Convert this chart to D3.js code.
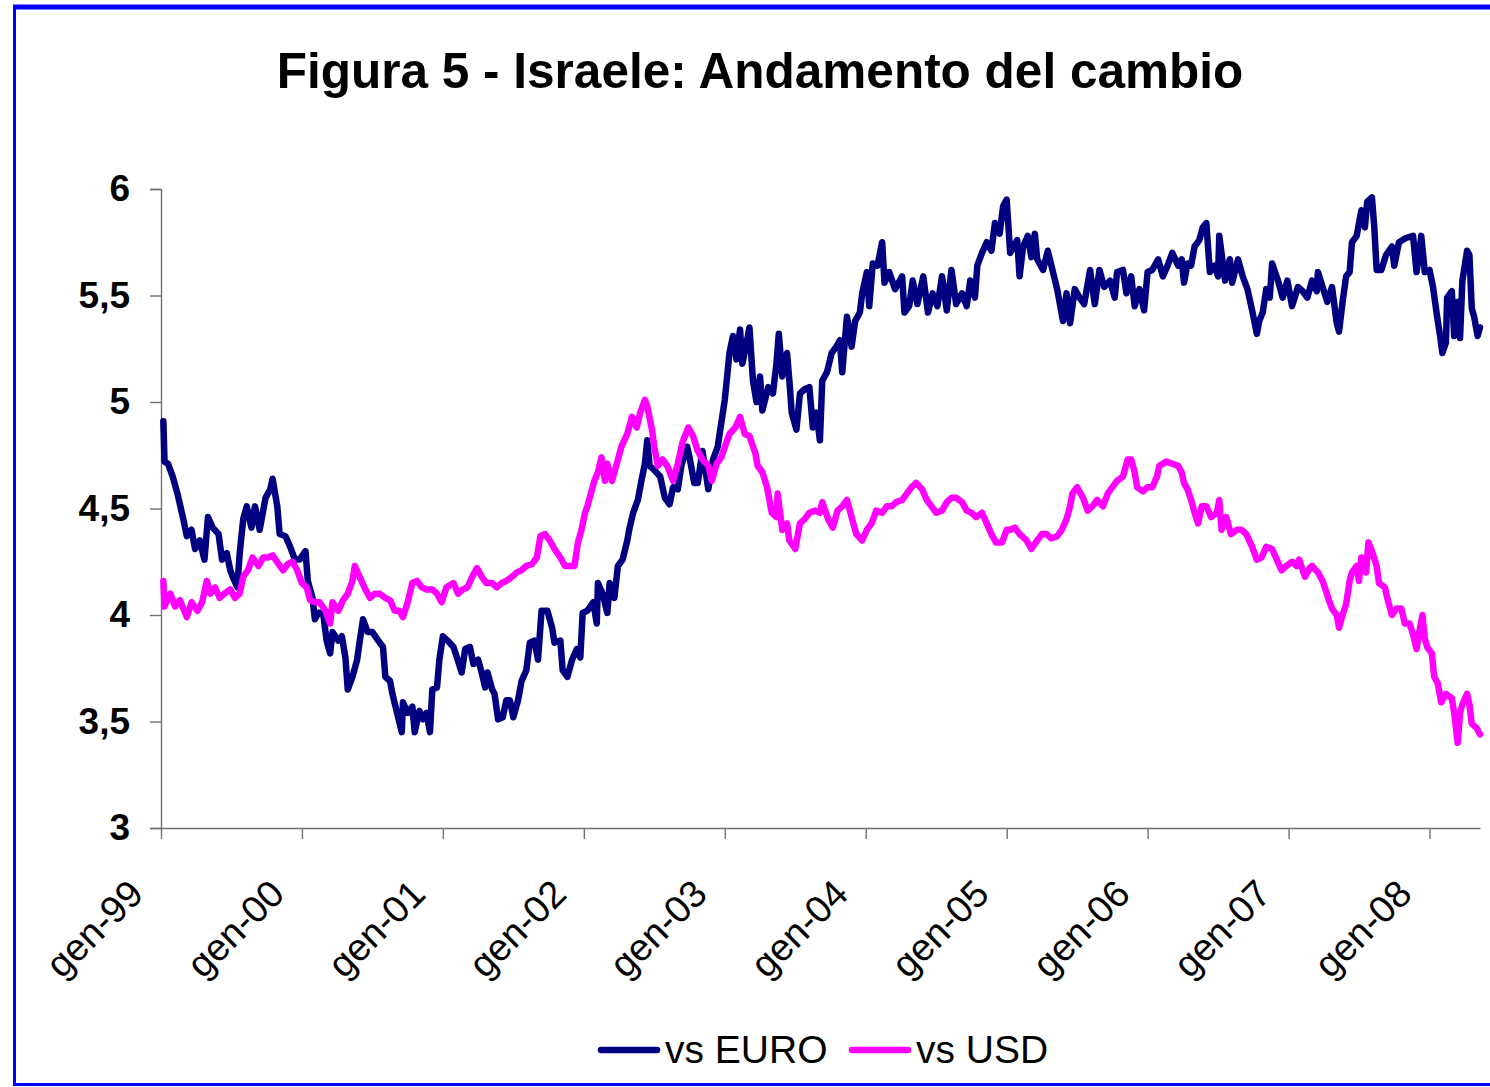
<!DOCTYPE html>
<html>
<head>
<meta charset="utf-8">
<script src="https://cdn.jsdelivr.net/npm/d3@7"></script>
<style>
  body { margin: 0; background: #fff; }
  svg { display: block; font-family: Arial, "Liberation Sans", sans-serif; }
</style>
</head>
<body>
<div id="chart"></div>
<script>
// months counted from Jan 1999, value = shekels per unit
const euroSeries = [
  [0.2,4.91],[0.3,4.72],[0.6,4.71],[1.0,4.65],[1.4,4.57],[1.9,4.45],[2.2,4.37],[2.6,4.40],[2.9,4.31],[3.3,4.35],
  [3.7,4.26],[4.0,4.46],[4.4,4.41],[4.9,4.38],[5.2,4.26],[5.6,4.29],[5.9,4.21],[6.1,4.18],[6.5,4.13],[6.7,4.29],
  [7.0,4.45],[7.3,4.51],[7.7,4.41],[8.0,4.51],[8.4,4.40],[8.9,4.55],[9.3,4.59],[9.5,4.64],[9.9,4.51],[10.1,4.38],
  [10.6,4.37],[11.0,4.32],[11.4,4.26],[11.8,4.26],[12.3,4.30],[12.5,4.16],[12.9,4.08],[13.1,3.98],[13.4,4.01],[13.8,4.01],
  [14.1,3.88],[14.4,3.82],[14.6,3.92],[15.1,3.88],[15.4,3.90],[15.7,3.80],[15.9,3.65],[16.3,3.71],[16.7,3.79],[16.9,3.87],
  [17.2,3.98],[17.6,3.92],[18.0,3.92],[18.5,3.88],[18.9,3.85],[19.1,3.71],[19.5,3.69],[19.7,3.63],[20.1,3.54],[20.5,3.45],
  [20.6,3.59],[21.0,3.54],[21.4,3.57],[21.6,3.45],[22.0,3.55],[22.3,3.51],[22.6,3.54],[22.9,3.45],[23.1,3.65],[23.5,3.66],
  [23.7,3.79],[24.0,3.90],[24.4,3.88],[24.9,3.85],[25.2,3.80],[25.6,3.73],[25.9,3.84],[26.3,3.85],[26.6,3.77],[27.0,3.79],
  [27.3,3.73],[27.6,3.66],[27.8,3.73],[28.2,3.65],[28.4,3.63],[28.7,3.51],[29.1,3.52],[29.4,3.60],[29.7,3.60],[30.0,3.52],
  [30.4,3.60],[30.7,3.69],[31.1,3.74],[31.4,3.87],[31.8,3.88],[32.1,3.79],[32.4,4.02],[32.9,4.02],[33.3,3.94],[33.5,3.87],
  [34.0,3.88],[34.2,3.74],[34.6,3.71],[35.0,3.79],[35.4,3.84],[35.7,3.80],[35.9,4.01],[36.3,4.02],[36.8,4.06],[37.1,3.96],
  [37.2,4.15],[37.6,4.10],[38.0,4.01],[38.2,4.15],[38.6,4.08],[38.9,4.23],[39.3,4.26],[39.7,4.35],[39.9,4.41],[40.2,4.48],
  [40.6,4.54],[40.9,4.63],[41.2,4.71],[41.4,4.82],[41.6,4.70],[42.0,4.68],[42.5,4.65],[42.9,4.55],[43.3,4.52],[43.6,4.60],
  [44.0,4.59],[44.3,4.70],[44.8,4.79],[45.0,4.74],[45.4,4.62],[45.7,4.62],[46.1,4.77],[46.6,4.59],[47.0,4.73],[47.4,4.79],
  [47.7,4.90],[48.0,5.01],[48.4,5.23],[48.7,5.31],[49.0,5.20],[49.3,5.34],[49.5,5.18],[49.9,5.29],[50.1,5.35],[50.4,5.10],
  [50.7,5.00],[51.0,5.12],[51.2,4.96],[51.7,5.07],[52.1,5.04],[52.4,5.18],[52.6,5.32],[52.9,5.12],[53.3,5.23],[53.5,5.10],
  [53.7,4.95],[54.1,4.87],[54.4,5.04],[54.8,5.06],[55.2,5.07],[55.5,4.88],[55.8,4.95],[56.1,4.82],[56.3,5.10],[56.7,5.14],
  [57.1,5.23],[57.5,5.26],[57.8,5.29],[58.0,5.14],[58.4,5.40],[58.8,5.26],[59.1,5.38],[59.5,5.42],[59.7,5.51],[60.1,5.61],
  [60.3,5.45],[60.6,5.65],[61.0,5.64],[61.4,5.75],[61.6,5.56],[62.0,5.61],[62.5,5.53],[63.1,5.59],[63.3,5.42],[63.7,5.45],
  [64.0,5.57],[64.4,5.46],[64.9,5.59],[65.3,5.42],[65.7,5.51],[66.1,5.45],[66.5,5.59],[66.9,5.43],[67.3,5.62],[67.7,5.46],
  [68.2,5.51],[68.6,5.45],[68.9,5.57],[69.3,5.49],[69.5,5.64],[69.9,5.70],[70.3,5.75],[70.7,5.71],[71.0,5.84],[71.4,5.79],
  [71.7,5.92],[72.0,5.95],[72.3,5.70],[72.9,5.76],[73.1,5.59],[73.4,5.73],[73.8,5.78],[74.1,5.68],[74.4,5.79],[74.6,5.67],
  [75.1,5.62],[75.5,5.71],[75.9,5.62],[76.3,5.53],[76.8,5.38],[77.1,5.51],[77.4,5.37],[77.8,5.53],[78.2,5.49],[78.6,5.46],
  [79.1,5.62],[79.5,5.46],[79.9,5.62],[80.3,5.54],[80.8,5.57],[81.2,5.49],[81.4,5.61],[81.9,5.62],[82.2,5.51],[82.6,5.59],
  [82.9,5.45],[83.3,5.53],[83.7,5.43],[84.0,5.61],[84.4,5.62],[84.9,5.67],[85.3,5.59],[85.7,5.64],[86.1,5.70],[86.6,5.64],
  [86.9,5.67],[87.1,5.56],[87.4,5.65],[87.7,5.64],[88.0,5.73],[88.4,5.76],[88.7,5.82],[89.0,5.84],[89.3,5.61],[89.7,5.64],
  [90.0,5.59],[90.1,5.78],[90.6,5.57],[91.0,5.67],[91.2,5.56],[91.7,5.67],[92.1,5.59],[92.5,5.53],[92.9,5.43],[93.3,5.32],
  [93.5,5.38],[93.8,5.42],[94.1,5.53],[94.4,5.49],[94.6,5.65],[95.1,5.57],[95.5,5.49],[95.9,5.57],[96.3,5.45],[96.8,5.54],
  [97.2,5.52],[97.6,5.49],[98.0,5.57],[98.4,5.52],[98.5,5.61],[98.9,5.54],[99.3,5.47],[99.7,5.54],[100.1,5.37],[100.3,5.33],
  [100.6,5.47],[100.9,5.59],[101.2,5.61],[101.4,5.75],[101.8,5.78],[102.2,5.90],[102.5,5.82],[102.7,5.94],[103.1,5.96],[103.3,5.82],
  [103.5,5.62],[103.9,5.62],[104.3,5.69],[104.8,5.73],[105.0,5.64],[105.4,5.75],[106.0,5.77],[106.6,5.78],[106.9,5.61],[107.3,5.78],
  [107.6,5.61],[108.0,5.62],[108.3,5.54],[108.6,5.42],[108.9,5.31],[109.1,5.23],[109.4,5.28],[109.5,5.49],[109.9,5.52],[110.1,5.31],
  [110.4,5.47],[110.6,5.30],[110.8,5.57],[111.2,5.71],[111.4,5.69],[111.6,5.44],[111.8,5.40],[112.1,5.31],[112.3,5.35]
];

const usdSeries = [
  [0.2,4.16],[0.3,4.04],[0.8,4.10],[1.2,4.04],[1.6,4.07],[2.2,3.99],[2.6,4.06],[3.1,4.02],[3.5,4.06],[3.9,4.16],
  [4.2,4.10],[4.6,4.13],[5.0,4.08],[5.4,4.10],[5.9,4.12],[6.3,4.08],[6.7,4.10],[7.0,4.18],[7.4,4.21],[7.8,4.27],
  [8.3,4.23],[8.7,4.27],[9.1,4.27],[9.5,4.28],[10.0,4.24],[10.4,4.21],[10.8,4.24],[11.2,4.25],[11.6,4.21],[12.0,4.15],
  [12.4,4.13],[12.7,4.07],[13.1,4.06],[13.5,4.06],[14.0,4.02],[14.4,3.96],[14.6,4.06],[15.1,4.02],[15.5,4.07],[15.9,4.10],
  [16.3,4.16],[16.5,4.23],[16.9,4.18],[17.4,4.12],[17.8,4.08],[18.2,4.10],[18.6,4.10],[19.1,4.08],[19.5,4.07],[19.9,4.02],
  [20.3,4.02],[20.6,3.99],[21.0,4.06],[21.4,4.15],[21.8,4.16],[22.2,4.13],[22.6,4.12],[23.1,4.12],[23.5,4.10],[23.9,4.06],
  [24.3,4.13],[24.9,4.15],[25.3,4.10],[25.7,4.12],[26.1,4.13],[26.5,4.18],[26.9,4.22],[27.3,4.18],[27.7,4.15],[28.2,4.15],
  [28.6,4.13],[29.0,4.15],[29.4,4.16],[29.9,4.18],[30.3,4.20],[30.7,4.21],[31.1,4.23],[31.6,4.24],[32.0,4.27],[32.3,4.37],
  [32.7,4.38],[33.1,4.35],[33.5,4.31],[34.0,4.27],[34.4,4.23],[34.8,4.23],[35.2,4.23],[35.5,4.34],[35.8,4.40],[36.1,4.48],
  [36.3,4.51],[36.7,4.59],[36.9,4.63],[37.2,4.67],[37.5,4.74],[37.8,4.63],[38.0,4.71],[38.4,4.63],[38.8,4.71],[39.2,4.79],
  [39.7,4.85],[40.1,4.93],[40.5,4.88],[40.8,4.95],[41.2,5.01],[41.4,4.98],[41.8,4.87],[42.0,4.79],[42.3,4.70],[42.7,4.73],
  [43.1,4.70],[43.6,4.63],[44.0,4.71],[44.4,4.81],[44.9,4.88],[45.3,4.84],[45.7,4.77],[46.1,4.73],[46.6,4.70],[46.9,4.63],
  [47.3,4.71],[47.7,4.74],[48.2,4.82],[48.4,4.85],[48.9,4.88],[49.3,4.93],[49.7,4.85],[50.1,4.84],[50.6,4.76],[50.8,4.70],
  [51.2,4.67],[51.6,4.60],[52.0,4.48],[52.4,4.46],[52.5,4.57],[52.9,4.40],[53.3,4.43],[53.5,4.35],[54.0,4.31],[54.4,4.43],
  [54.8,4.45],[55.2,4.48],[55.7,4.49],[56.1,4.48],[56.3,4.53],[56.8,4.45],[57.2,4.41],[57.6,4.49],[58.0,4.51],[58.4,4.54],
  [58.8,4.46],[59.2,4.38],[59.7,4.35],[60.1,4.40],[60.5,4.43],[60.9,4.49],[61.4,4.48],[61.8,4.51],[62.2,4.51],[62.6,4.53],
  [63.1,4.54],[63.5,4.57],[63.9,4.60],[64.3,4.62],[64.8,4.59],[65.2,4.54],[65.6,4.51],[66.0,4.48],[66.5,4.49],[66.9,4.53],
  [67.3,4.55],[67.7,4.55],[68.2,4.53],[68.6,4.49],[69.0,4.48],[69.4,4.46],[69.9,4.48],[70.3,4.43],[70.7,4.38],[71.1,4.34],
  [71.6,4.34],[72.0,4.40],[72.3,4.40],[72.7,4.41],[73.1,4.38],[73.7,4.35],[74.1,4.31],[74.6,4.35],[75.0,4.38],[75.4,4.38],
  [75.8,4.36],[76.3,4.37],[76.7,4.40],[77.1,4.45],[77.4,4.51],[77.6,4.57],[78.0,4.60],[78.5,4.55],[78.9,4.49],[79.3,4.51],
  [79.7,4.54],[80.2,4.51],[80.6,4.57],[81.0,4.60],[81.4,4.63],[81.9,4.65],[82.3,4.73],[82.6,4.73],[82.9,4.67],[83.1,4.60],
  [83.6,4.58],[84.0,4.60],[84.4,4.60],[84.8,4.65],[85.0,4.70],[85.6,4.72],[86.1,4.71],[86.6,4.70],[86.9,4.67],[87.1,4.62],
  [87.4,4.59],[87.7,4.54],[88.0,4.48],[88.3,4.43],[88.6,4.51],[89.0,4.51],[89.4,4.46],[89.9,4.48],[90.1,4.54],[90.3,4.40],
  [90.7,4.46],[91.1,4.38],[91.6,4.40],[92.0,4.40],[92.4,4.38],[92.9,4.32],[93.3,4.26],[93.7,4.27],[94.1,4.32],[94.6,4.31],
  [95.0,4.26],[95.4,4.21],[95.8,4.23],[96.3,4.25],[96.7,4.23],[96.9,4.26],[97.4,4.18],[97.8,4.22],[98.0,4.23],[98.5,4.20],
  [98.9,4.16],[99.2,4.11],[99.5,4.06],[99.7,4.03],[100.1,4.00],[100.3,3.94],[100.6,4.00],[100.9,4.05],[101.2,4.16],[101.4,4.20],
  [101.8,4.23],[102.0,4.16],[102.2,4.27],[102.5,4.25],[102.6,4.20],[102.8,4.34],[103.1,4.30],[103.5,4.23],[103.7,4.15],[104.2,4.13],
  [104.4,4.08],[104.8,4.00],[105.2,4.03],[105.6,4.03],[105.9,3.96],[106.3,3.96],[106.6,3.91],[106.9,3.84],[107.1,3.91],[107.4,4.00],
  [107.6,3.89],[107.8,3.85],[108.2,3.82],[108.4,3.71],[108.7,3.68],[109.0,3.59],[109.4,3.63],[109.9,3.61],[110.1,3.54],[110.4,3.40],
  [110.6,3.54],[110.8,3.58],[111.2,3.63],[111.4,3.58],[111.6,3.49],[112.0,3.47],[112.3,3.44]
];

const seriesNames = ["vs EURO", "vs USD"];
const seriesColors = ["#000080", "#FF00FF"];
const xTickMonths = [0, 12, 24, 36, 48, 60, 72, 84, 96, 108];
const xTickLabels = ["gen-99", "gen-00", "gen-01", "gen-02", "gen-03", "gen-04", "gen-05", "gen-06", "gen-07", "gen-08"];
const yTicks = [3, 3.5, 4, 4.5, 5, 5.5, 6];
const lastMonth = 112.3;

const width = 1490, height = 1087;
const margins = {top: 189, right: 10, bottom: 259, left: 161};

const svg = d3.select("#chart")
  .append("svg")
  .attr("width", width)
  .attr("height", height);

// blue frame
svg.append("rect")
  .attr("x", 14.5).attr("y", 7.5)
  .attr("width", 1500).attr("height", 1077)
  .attr("fill", "none")
  .attr("stroke", "#0000FF")
  .attr("stroke-width", 3);
svg.append("line")
  .attr("x1", 13).attr("x2", width).attr("y1", 7).attr("y2", 7)
  .attr("stroke", "#0000FF").attr("stroke-width", 5);

// title
svg.append("text")
  .attr("x", 760)
  .attr("y", 88)
  .attr("text-anchor", "middle")
  .style("font-size", "49.5px")
  .style("font-weight", "bold")
  .text("Figura 5 - Israele: Andamento del cambio");

const xScale = d3.scaleLinear()
  .domain([0, lastMonth])
  .range([margins.left, 1480]);
const yScale = d3.scaleLinear()
  .domain([3, 6])
  .range([828, margins.top]);

// y axis
const yGroup = svg.append("g")
  .attr("transform", `translate(${margins.left},0)`)
  .call(d3.axisLeft(yScale)
    .tickValues(yTicks)
    .tickSize(11)
    .tickPadding(20)
    .tickFormat(d => String(d).replace(".", ",")));
yGroup.selectAll("line, path").attr("stroke", "#707070").attr("stroke-width", 1.4);
yGroup.selectAll("text")
  .attr("fill", "#000")
  .style("font-size", "37px")
  .style("font-weight", "bold")
  .style("font-family", "Arial, 'Liberation Sans', sans-serif");

// x axis
const xGroup = svg.append("g")
  .attr("transform", `translate(0,${yScale(3)})`)
  .call(d3.axisBottom(xScale)
    .tickValues(xTickMonths)
    .tickSize(11)
    .tickSizeOuter(0)
    .tickFormat((d, i) => xTickLabels[i]));
xGroup.selectAll("line, path").attr("stroke", "#707070").attr("stroke-width", 1.4);
xGroup.selectAll("text")
  .attr("fill", "#000")
  .attr("y", 0).attr("dy", 0)
  .attr("transform", "translate(-16,68) rotate(-45)")
  .style("text-anchor", "end")
  .style("font-size", "38px")
  .style("font-family", "Arial, 'Liberation Sans', sans-serif");

// lines
const line = d3.line()
  .x(d => xScale(d[0]))
  .y(d => yScale(d[1]));

svg.append("g")
  .selectAll("path")
  .data([euroSeries, usdSeries])
  .join("path")
  .attr("d", d => line(d))
  .attr("fill", "none")
  .attr("stroke", (d, i) => seriesColors[i])
  .attr("stroke-width", 6.5)
  .attr("stroke-linejoin", "round")
  .attr("stroke-linecap", "round");

// legend
const legend = svg.append("g");
const legendX = [601, 852];
seriesNames.forEach((name, i) => {
  legend.append("line")
    .attr("x1", legendX[i]).attr("x2", legendX[i] + 56)
    .attr("y1", 1050).attr("y2", 1050)
    .attr("stroke", seriesColors[i])
    .attr("stroke-width", 6.5)
    .attr("stroke-linecap", "round");
  legend.append("text")
    .attr("x", legendX[i] + 64)
    .attr("y", 1063)
    .style("font-size", "39px")
    .text(name);
});
</script>
</body>
</html>
